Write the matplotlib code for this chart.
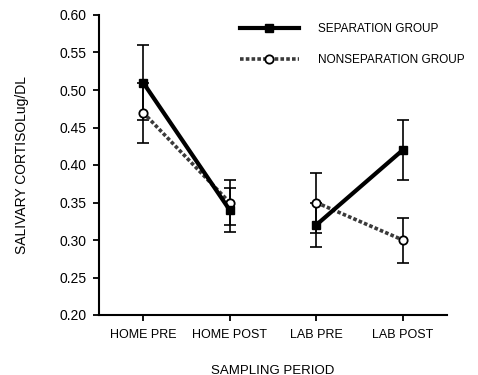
import matplotlib
matplotlib.use("Agg")
import matplotlib.pyplot as plt
from matplotlib.lines import Line2D

plt.rcParams['font.family'] = ['Liberation Sans', 'DejaVu Sans']

categories = ["HOME PRE", "HOME POST", "LAB PRE", "LAB POST"]
sep_vals = [0.51, 0.34, 0.32, 0.42]
sep_err = [0.05, 0.03, 0.03, 0.04]
nonsep_vals = [0.47, 0.35, 0.35, 0.30]
nonsep_err = [0.04, 0.03, 0.04, 0.03]
yticks = [0.20, 0.25, 0.30, 0.35, 0.40, 0.45, 0.50, 0.55, 0.60]

fig = plt.figure(figsize=(4.78, 3.75), dpi=100)
ax = fig.add_axes([0.207, 0.16, 0.728, 0.80])

x = list(range(1, len(categories) + 1))

ax.errorbar(x, nonsep_vals, yerr=nonsep_err, fmt='none', ecolor='black',
            elinewidth=1.2, capsize=4, capthick=1.2, zorder=2)
ax.errorbar(x, sep_vals, yerr=sep_err, fmt='none', ecolor='black',
            elinewidth=1.2, capsize=4, capthick=1.2, zorder=2)

sep_style = dict(color='black', linewidth=3, marker='s', markersize=6,
                 markerfacecolor='black', markeredgecolor='black')
non_style = dict(color='#3a3a3a', linewidth=2.6, linestyle=(0, (1, 0.6)),
                 marker='o', markersize=6, markerfacecolor='white',
                 markeredgecolor='black', markeredgewidth=1.3)

# home and lab segments are drawn separately (no line between them)
for seg in (slice(0, 2), slice(2, 4)):
    ax.plot(x[seg], nonsep_vals[seg], zorder=3, **non_style)
    ax.plot(x[seg], sep_vals[seg], zorder=4, **sep_style)

ax.set_xlim(0.49, 4.51)
ax.set_ylim(0.20, 0.60)
ax.set_xticks(x)
ax.set_xticklabels(categories, fontsize=9)
ax.set_yticks(yticks)
ax.set_yticklabels([f"{v:.2f}" for v in yticks], fontsize=10)

for s in ['top', 'right']:
    ax.spines[s].set_visible(False)
for s in ['left', 'bottom']:
    ax.spines[s].set_linewidth(1.5)
ax.tick_params(axis='both', direction='out', length=4, width=1.3, colors='black')
ax.tick_params(axis='x', pad=6)
ax.tick_params(axis='y', pad=5)

ax.set_ylabel("SALIVARY CORTISOLug/DL", fontsize=10, labelpad=22)
ax.set_xlabel("SAMPLING PERIOD", fontsize=9.5, labelpad=17)

handles = [Line2D([], [], **sep_style), Line2D([], [], **non_style)]
labels = ['SEPARATION GROUP', 'NONSEPARATION GROUP']
ax.legend(handles, labels, loc='upper left', bbox_to_anchor=(0.395, 0.985),
          frameon=False, fontsize=8.5, handlelength=5.0, handletextpad=1.6,
          labelspacing=1.6, borderaxespad=0.0, borderpad=0.3)

fig.savefig("out.png", dpi=100)
